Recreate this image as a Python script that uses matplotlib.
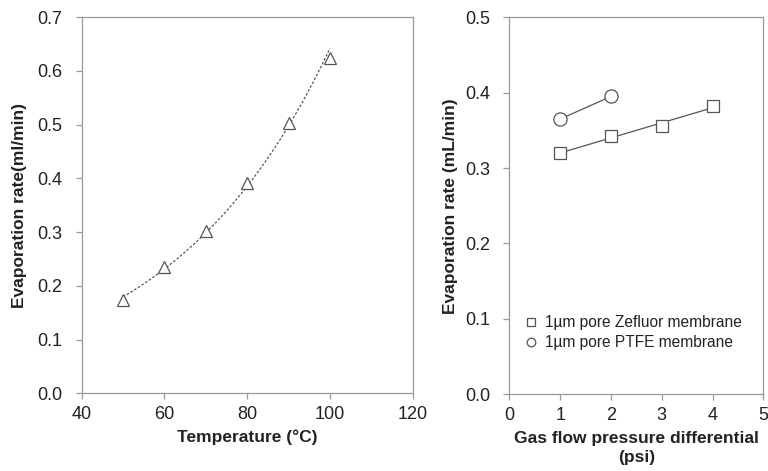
import matplotlib
matplotlib.use("Agg")
import matplotlib.pyplot as plt
import numpy as np

plt.rcParams["font.family"] = ["Liberation Sans", "DejaVu Sans"]

# Left panel: evaporation vs temperature
temp_c = [50, 60, 70, 80, 90, 100]
evap_temp = [0.174, 0.236, 0.302, 0.392, 0.504, 0.625]

# Right panel: evaporation vs gas flow pressure differential
psi_zefluor = [1, 2, 3, 4]
evap_zefluor = [0.320, 0.342, 0.356, 0.382]
psi_ptfe = [1, 2]
evap_ptfe = [0.365, 0.395]

GREY = "#555555"
SPINE = "#9a9a9a"
TXT = "#222222"

fig = plt.figure(figsize=(7.68, 4.71), dpi=100)
ax1 = fig.add_axes([0.1064, 0.165, 0.431, 0.7983])
ax2 = fig.add_axes([0.6632, 0.163, 0.3307, 0.8003])


def style(ax):
    for s in ax.spines.values():
        s.set_color(SPINE)
        s.set_linewidth(0.9)
    ax.tick_params(direction="out", length=4, width=0.9, color=SPINE,
                   labelsize=13, labelcolor=TXT, top=False, right=False)
    ax.tick_params(axis="y", pad=10)
    ax.tick_params(axis="x", pad=5)


# left: exponential trendline fitted to the data
b, a = np.polyfit(temp_c, np.log(evap_temp), 1)
xs = np.linspace(min(temp_c), max(temp_c), 200)
ax1.plot(xs, np.exp(a) * np.exp(b * xs), ls=(0, (2, 1.5)), lw=0.9, color=GREY)
ax1.plot(temp_c, evap_temp, ls="none", marker="^", ms=9, mfc="white",
         mec=GREY, mew=0.9)
ax1.set_xlim(40, 120)
ax1.set_ylim(0, 0.7)
ax1.set_xticks(np.arange(40, 121, 20))
ax1.set_yticks(np.arange(0, 0.71, 0.1))
ax1.yaxis.set_major_formatter(matplotlib.ticker.FormatStrFormatter("%.1f"))
ax1.set_xlabel("Temperature (°C)", fontsize=12.5, fontweight="bold", color=TXT, labelpad=5)
ax1.set_ylabel("Evaporation rate(ml/min)", fontsize=12.5, fontweight="bold", color=TXT, labelpad=7)
style(ax1)

# right: linear trendline for Zefluor, connecting line for PTFE
m, c = np.polyfit(psi_zefluor, evap_zefluor, 1)
xz = np.array([min(psi_zefluor), max(psi_zefluor)])
ax2.plot(xz, m * xz + c, lw=0.9, color=GREY)
ax2.plot(psi_zefluor, evap_zefluor, ls="none", marker="s", ms=9, mfc="white",
         mec=GREY, mew=0.9, label="1µm pore Zefluor membrane")
ax2.plot(psi_ptfe, evap_ptfe, lw=0.9, color=GREY)
ax2.plot(psi_ptfe, evap_ptfe, ls="none", marker="o", ms=9.5, mfc="white",
         mec=GREY, mew=0.9, label="1µm pore PTFE membrane")
ax2.set_xlim(0, 5)
ax2.set_ylim(0, 0.5)
ax2.set_xticks(range(0, 6))
ax2.set_yticks(np.arange(0, 0.51, 0.1))
ax2.yaxis.set_major_formatter(matplotlib.ticker.FormatStrFormatter("%.1f"))
ax2.set_xlabel("Gas flow pressure differential\n(psi)", fontsize=12.5, fontweight="bold",
               color=TXT, labelpad=5, linespacing=1.35)
ax2.set_ylabel("Evaporation rate (mL/min)", fontsize=12.5, fontweight="bold", color=TXT, labelpad=5)
style(ax2)
ax2.legend(loc="lower left", bbox_to_anchor=(0.0, 0.08), frameon=False, fontsize=11.2,
           markerscale=0.65, handlelength=1.0, handletextpad=0.4, labelspacing=0.3,
           labelcolor=TXT)

fig.savefig("out.png", dpi=100, facecolor="white")
